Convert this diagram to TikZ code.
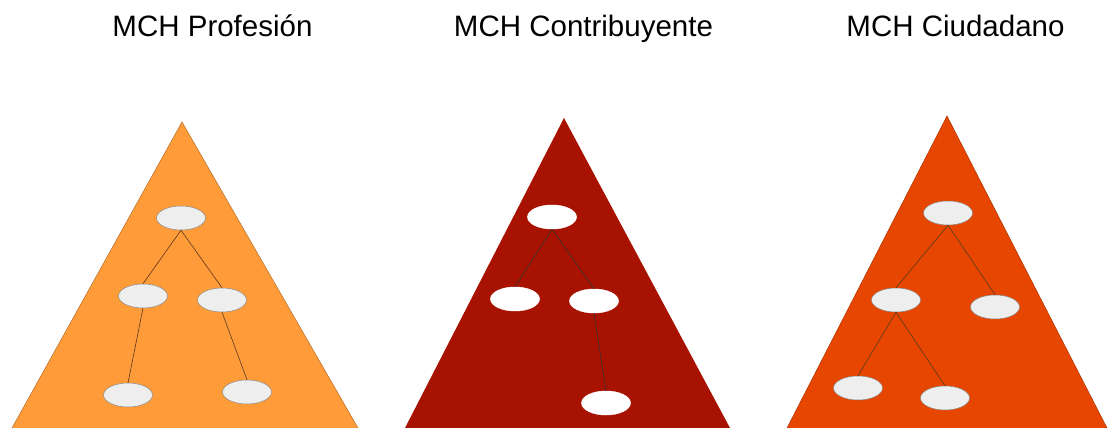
\documentclass[tikz,border=0pt]{standalone}
\usepackage{fontspec}
\setmainfont{Liberation Sans}
\usetikzlibrary{shapes.geometric}
\definecolor{orangeA}{HTML}{FF9B38}
\definecolor{redB}{HTML}{A81200}
\definecolor{orangeC}{HTML}{E64600}
\definecolor{nodegray}{HTML}{EEEEEE}
\definecolor{edgegray}{HTML}{8A8A8A}
\definecolor{linkcol}{HTML}{5A3A20}
\tikzset{
  title/.style={anchor=base, font=\fontsize{29.5}{34}\selectfont, inner sep=0pt},
  tri/.style={line width=0.5pt},
  onode/.style={ellipse, minimum width=49pt, minimum height=24pt, inner sep=0pt, fill=nodegray, draw=edgegray, line width=0.5pt},
  wnode/.style={ellipse, minimum width=49pt, minimum height=24pt, inner sep=0pt, fill=white, draw=white, line width=0.5pt},
  link/.style={draw=linkcol, line width=0.6pt},
  wlink/.style={draw=black!80, line width=0.6pt}
}
\begin{document}
\begin{tikzpicture}[x=1pt,y=-1pt]
\useasboundingbox (0,0) rectangle (1112,428);
% titles
\node[title] (t1) at (212.5,37) {MCH Profesión};
\node[title] (t2) at (583.5,37) {MCH Contribuyente};
\node[title] (t3) at (955.5,37) {MCH Ciudadano};
% triangles
\fill[orangeA] (182,122) -- (12,428) -- (358,428) -- cycle;
\draw[tri, draw=orangeA!70!black] (12,428) -- (182,122) -- (358,428);
\fill[redB] (564,118) -- (405,428) -- (730,428) -- cycle;
\fill[orangeC] (947,116) -- (787,428) -- (1107,428) -- cycle;
\draw[tri, draw=orangeC!75!black] (787,428) -- (947,116) -- (1107,428);
% tree 1
\node[onode] (a1) at (181,218) {};
\node[onode] (a2) at (143,296) {};
\node[onode] (a3) at (222,300) {};
\node[onode] (a4) at (128,395) {};
\node[onode] (a5) at (247,392) {};
\draw[link] (a1.south) -- (a2.north);
\draw[link] (a1.south) -- (a3.north);
\draw[link] (a2.south) -- (a4.north);
\draw[link] (a3.south) -- (a5.north);
% tree 2
\node[wnode] (b1) at (552,217) {};
\node[wnode] (b2) at (515,299) {};
\node[wnode] (b3) at (594,301) {};
\node[wnode] (b4) at (606,403) {};
\draw[wlink] (b1.south) -- (b2.north);
\draw[wlink] (b1.south) -- (b3.north);
\draw[wlink] (b3.south) -- (b4.north);
% tree 3
\node[onode] (c1) at (948,213) {};
\node[onode] (c2) at (896,300) {};
\node[onode] (c3) at (995,307) {};
\node[onode] (c4) at (858,388) {};
\node[onode] (c5) at (945,398) {};
\draw[link] (c1.south) -- (c2.north);
\draw[link] (c1.south) -- (c3.north);
\draw[link] (c2.south) -- (c4.north);
\draw[link] (c2.south) -- (c5.north);
\end{tikzpicture}
\end{document}
